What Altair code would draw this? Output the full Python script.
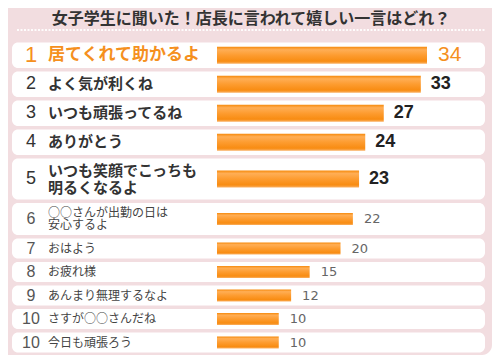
import altair as alt
import pandas as pd

# ---- data ----
title_text = "女子学生に聞いた！店長に言われて嬉しい一言はどれ？"
ranks = ["1", "2", "3", "4", "5", "6", "7", "8", "9", "10", "10"]
labels = [
    "居てくれて助かるよ",
    "よく気が利くね",
    "いつも頑張ってるね",
    "ありがとう",
    "いつも笑顔でこっちも\n明るくなるよ",
    "○○さんが出勤の日は\n安心するよ",
    "おはよう",
    "お疲れ様",
    "あんまり無理するなよ",
    "さすが○○さんだね",
    "今日も頑張ろう",
]
values = [34, 33, 27, 24, 23, 22, 20, 15, 12, 10, 10]

# ---- layout (pixel units of the picture) ----
ROW_H = [25.5] * 4 + [41, 32] + [20] * 5
BAR_H = [17] * 5 + [12] * 6
TIER = [0] + [1] * 4 + [2] * 6
LINE_H = {0: 17, 1: 17, 2: 12}
GAP = 3.5
TOP0 = 42.5

tops, t = [], TOP0
for h in ROW_H:
    tops.append(t)
    t += h + GAP

rows = pd.DataFrame({"rank": ranks, "label": labels, "value": values})
rows["top"] = tops
rows["bottom"] = [a + h for a, h in zip(tops, ROW_H)]
rows["center"] = [a + h / 2 for a, h in zip(tops, ROW_H)]
rows["bar_top"] = [c - b / 2 for c, b in zip(rows["center"], BAR_H)]
rows["bar_bot"] = [c + b / 2 for c, b in zip(rows["center"], BAR_H)]
rows["tier"] = TIER
rows["ty"] = [c - (lab.count("\n")) * LINE_H[tr] / 2
              for c, lab, tr in zip(rows["center"], labels, TIER)]

ORANGE = "#f5901e"
JP = "Noto Sans CJK JP"
LAT = "Liberation Sans"

W, H = 485, 347
yscale = alt.Scale(domain=[8, 8 + H], range=[0, H])
xscale = alt.Scale(domain=[0, 34], range=[209, 419])


def Y(f):
    return alt.Y(f, type="quantitative", scale=yscale, axis=None)


XV = alt.X("value:Q", scale=xscale, axis=None)

one = pd.DataFrame({"k": [0]})

panel = alt.Chart(one).mark_rect(
    color="#f2dde0", cornerRadiusTopLeft=0, cornerRadiusTopRight=0,
    cornerRadiusBottomLeft=0, cornerRadiusBottomRight=10,
).encode(x=alt.value(0), x2=alt.value(484), y=alt.value(0), y2=alt.value(H))
dots = alt.Chart(one).mark_rule(color="white", strokeWidth=2, strokeDash=[2, 1.5], opacity=0.9).encode(
    x=alt.value(9), x2=alt.value(477), y=alt.value(22)
)
title = alt.Chart(one).mark_text(
    text=title_text, font=JP, fontSize=16, fontWeight="bold", color="#333333",
    align="center", baseline="middle"
).encode(x=alt.value(243), y=alt.value(10.5))

base = alt.Chart(rows)

boxes = base.mark_rect(color="white", cornerRadius=6).encode(
    x=alt.value(4), x2=alt.value(477), y=Y("top"), y2="bottom"
)

grad = alt.LinearGradient(
    gradient="linear", x1=0, x2=0, y1=0, y2=1,
    stops=[
        alt.GradientStop(color="#f68a0c", offset=0),
        alt.GradientStop(color="#ffae55", offset=0.18),
        alt.GradientStop(color="#fd9c30", offset=0.5),
        alt.GradientStop(color="#f88c12", offset=0.85),
        alt.GradientStop(color="#fab062", offset=1),
    ],
)
bars = base.mark_rect(color=grad).encode(
    x=XV, x2=alt.datum(0), y=Y("bar_top"), y2="bar_bot"
)


def tier(n):
    return base.transform_filter(alt.datum.tier == n)


rank0 = tier(0).mark_text(font=LAT, fontSize=22, color=ORANGE, align="center", baseline="middle").encode(
    x=alt.value(23), y=Y("center"), text="rank:N")
rank1 = tier(1).mark_text(font=LAT, fontSize=18, color="#333333", align="center", baseline="middle").encode(
    x=alt.value(23), y=Y("center"), text="rank:N")
rank2 = tier(2).mark_text(font=LAT, fontSize=16, color="#555555", align="center", baseline="middle").encode(
    x=alt.value(23), y=Y("center"), text="rank:N")

lab0 = tier(0).mark_text(font=JP, fontSize=17, fontWeight="bold", color=ORANGE, align="left", baseline="middle").encode(
    x=alt.value(40), y=Y("ty"), text="label:N")
lab1 = tier(1).mark_text(font=JP, fontSize=15, fontWeight="bold", color="#333333", align="left", baseline="middle",
                         lineBreak="\n", lineHeight=LINE_H[1]).encode(
    x=alt.value(40), y=Y("ty"), text="label:N")
lab2 = tier(2).mark_text(font=JP, fontSize=12, color="#444444", align="left", baseline="middle",
                         lineBreak="\n", lineHeight=LINE_H[2]).encode(
    x=alt.value(40), y=Y("ty"), text="label:N")

val0 = tier(0).mark_text(font=LAT, fontSize=21, color=ORANGE, align="left", baseline="middle", dx=11).encode(
    x=XV, y=Y("center"), text="value:Q")
val1 = tier(1).mark_text(font=LAT, fontSize=18, fontWeight="bold", color="#222222", align="left", baseline="middle", dx=10).encode(
    x=XV, y=Y("center"), text="value:Q")
val2 = tier(2).mark_text(font="DejaVu Sans", fontSize=13, color="#666666", align="left", baseline="middle", dx=11).encode(
    x=XV, y=Y("center"), text="value:Q")

chart = alt.layer(
    panel, dots, title, boxes, bars,
    rank0, rank1, rank2, lab0, lab1, lab2, val0, val1, val2,
).properties(
    width=W, height=H,
    autosize=alt.AutoSizeParams(type="fit", contains="padding"),
    padding=0, background="white",
).configure_view(stroke=None)

chart.save("out.html", embed_options={"renderer": "svg", "actions": False})
